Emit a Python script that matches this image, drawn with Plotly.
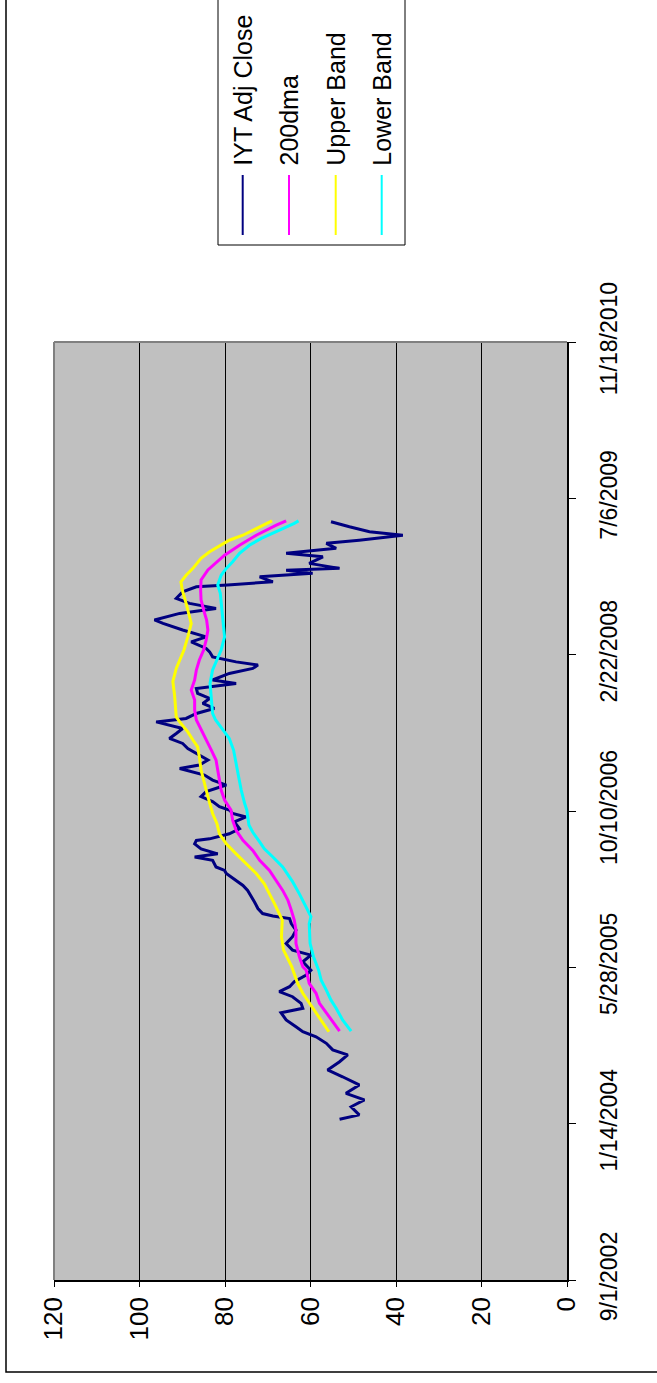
import plotly.graph_objects as go

# ---------------- data ----------------
iyt_dates = [
    "2004-01-28", "2004-02-11", "2004-03-08", "2004-03-30", "2004-04-20", "2004-05-17",
    "2004-06-12", "2004-07-04", "2004-07-30", "2004-08-21", "2004-09-06", "2004-09-27",
    "2004-10-18", "2004-11-03", "2004-11-19", "2004-12-11", "2005-01-03", "2005-01-17",
    "2005-02-02", "2005-02-23", "2005-03-11", "2005-03-27", "2005-04-12", "2005-05-03",
    "2005-05-19", "2005-06-15", "2005-07-06", "2005-07-22", "2005-08-12", "2005-09-03",
    "2005-09-24", "2005-10-15", "2005-10-31", "2005-11-08", "2005-11-16", "2005-12-02",
    "2005-12-23", "2006-01-10", "2006-01-29", "2006-02-14", "2006-03-02", "2006-03-24",
    "2006-04-03", "2006-04-14", "2006-05-05", "2006-05-16", "2006-05-26", "2006-06-11",
    "2006-06-27", "2006-07-08", "2006-07-13", "2006-07-29", "2006-08-14", "2006-09-05",
    "2006-09-21", "2006-10-02", "2006-10-13", "2006-10-24", "2006-11-09", "2006-11-25",
    "2006-12-11", "2007-01-01", "2007-01-17", "2007-02-02", "2007-02-23", "2007-03-06",
    "2007-03-22", "2007-04-07", "2007-04-28", "2007-05-14", "2007-05-30", "2007-06-15",
    "2007-07-01", "2007-07-22", "2007-08-02", "2007-08-18", "2007-09-03", "2007-09-19",
    "2007-10-05", "2007-10-21", "2007-11-06", "2007-11-22", "2007-12-03", "2007-12-24",
    "2008-01-09", "2008-01-20", "2008-01-30", "2008-02-15", "2008-03-02", "2008-03-13",
    "2008-04-03", "2008-04-19", "2008-05-11", "2008-06-01", "2008-06-12", "2008-07-03",
    "2008-07-19", "2008-08-04", "2008-08-20", "2008-09-10", "2008-09-26", "2008-10-02",
    "2008-10-12", "2008-10-28", "2008-11-08", "2008-11-18", "2008-11-24", "2008-12-10",
    "2008-12-31", "2009-01-11", "2009-01-27", "2009-02-12", "2009-02-22", "2009-03-10",
    "2009-03-21", "2009-04-06", "2009-04-22",
]
iyt_close = [
    53.2, 48.6, 50.5, 47.4, 51.7, 48.6,
    52.5, 56.0, 53.2, 51.3, 54.8, 56.3,
    58.7, 61.8, 63.4, 65.7, 66.9, 61.8,
    62.2, 64.2, 67.3, 64.9, 63.8, 61.0,
    59.9, 61.8, 59.9, 64.2, 65.7, 64.2,
    63.4, 64.5, 64.9, 68.8, 71.2, 72.3,
    73.1, 73.9, 74.7, 75.8, 77.4, 79.7,
    80.1, 82.1, 82.9, 87.1, 81.7, 85.6,
    87.1, 86.7, 83.6, 79.0, 76.6, 77.8,
    75.1, 78.2, 79.0, 81.3, 82.9, 85.6,
    84.4, 79.7, 82.9, 84.8, 90.6, 86.0,
    84.0, 86.0, 88.7, 89.9, 93.0, 91.4,
    89.9, 96.1, 89.1, 86.7, 82.5, 85.2,
    83.6, 86.4, 86.7, 77.4, 82.9, 79.0,
    73.5, 72.3, 77.4, 82.9, 83.6, 84.4,
    87.9, 84.4, 89.9, 94.5, 96.5, 90.6,
    82.1, 88.3, 91.4, 89.9, 86.7, 79.4,
    68.8, 71.9, 59.5, 65.7, 53.2, 60.3,
    57.1, 65.7, 54.0, 56.3, 48.6, 38.4,
    46.2, 50.9, 55.2,
]

dma_dates = [
    "2004-11-05", "2005-01-01", "2005-02-02", "2005-03-06", "2005-04-07", "2005-05-19",
    "2005-05-30", "2005-07-01", "2005-08-13", "2005-09-24", "2005-10-26", "2005-11-27",
    "2005-12-29", "2006-01-29", "2006-03-02", "2006-04-03", "2006-05-05", "2006-06-06",
    "2006-07-08", "2006-08-09", "2006-09-10", "2006-10-13", "2006-11-14", "2006-12-16",
    "2007-01-17", "2007-02-18", "2007-03-22", "2007-04-23", "2007-05-25", "2007-06-26",
    "2007-07-28", "2007-08-29", "2007-09-30", "2007-11-01", "2007-12-03", "2008-01-04",
    "2008-02-05", "2008-03-08", "2008-04-09", "2008-05-11", "2008-06-12", "2008-07-14",
    "2008-08-15", "2008-09-16", "2008-10-18", "2008-11-19", "2009-01-05", "2009-02-06",
    "2009-03-10", "2009-04-11", "2009-04-25",
]
dma_200 = [
    53.2, 56.3, 57.9, 58.7, 60.3, 61.0,
    61.8, 62.6, 63.4, 63.4, 63.8, 64.5,
    65.3, 66.5, 68.0, 69.6, 71.9, 73.5,
    75.8, 77.4, 78.2, 78.6, 80.1, 80.9,
    81.3, 81.7, 82.1, 83.2, 84.4, 85.6,
    86.7, 87.1, 87.1, 87.9, 87.1, 86.7,
    86.0, 85.0, 84.4, 84.0, 84.3, 85.0,
    85.6, 85.7, 85.6, 84.0, 80.1, 76.6,
    72.7, 68.0, 65.7,
]

upper_dates = [
    "2004-11-03", "2005-01-01", "2005-02-02", "2005-03-06", "2005-04-07", "2005-05-08",
    "2005-05-30", "2005-07-22", "2005-09-03", "2005-10-26", "2005-11-16", "2005-12-17",
    "2006-01-18", "2006-02-19", "2006-03-24", "2006-04-24", "2006-05-26", "2006-06-27",
    "2006-07-29", "2006-08-31", "2006-10-02", "2006-11-25", "2007-01-06", "2007-02-18",
    "2007-04-01", "2007-05-03", "2007-05-25", "2007-06-20", "2007-07-22", "2007-08-07",
    "2007-10-16", "2007-11-28", "2008-01-09", "2008-02-05", "2008-03-08", "2008-04-19",
    "2008-06-01", "2008-08-04", "2008-09-16", "2008-10-12", "2008-11-02", "2008-11-24",
    "2008-12-26", "2009-01-16", "2009-02-06", "2009-02-22", "2009-03-10", "2009-03-26",
    "2009-04-11", "2009-04-25",
]
upper_band = [
    55.7, 58.7, 60.3, 61.8, 63.0, 63.8,
    64.4, 66.3, 66.8, 66.6, 67.3, 68.4,
    69.6, 70.8, 72.7, 75.1, 77.4, 79.7,
    81.3, 81.9, 82.9, 84.0, 84.8, 85.6,
    86.0, 86.4, 87.5, 88.7, 90.6, 91.4,
    91.8, 92.2, 91.4, 90.6, 89.6, 88.7,
    87.9, 89.1, 90.0, 90.3, 89.1, 87.5,
    85.6, 83.6, 80.9, 79.0, 75.8, 73.5,
    71.2, 69.0,
]

lower_dates = [
    "2004-11-05", "2004-12-11", "2005-01-17", "2005-02-12", "2005-03-16", "2005-04-17",
    "2005-05-19", "2005-07-01", "2005-08-13", "2005-10-15", "2005-11-06", "2005-12-17",
    "2006-01-18", "2006-02-26", "2006-04-14", "2006-05-16", "2006-06-11", "2006-07-03",
    "2006-08-03", "2006-08-26", "2006-09-21", "2006-10-13", "2006-11-03", "2006-12-16",
    "2007-01-27", "2007-03-11", "2007-04-23", "2007-05-30", "2007-06-26", "2007-07-28",
    "2007-08-18", "2007-10-21", "2007-11-22", "2008-01-04", "2008-02-05", "2008-03-08",
    "2008-04-19", "2008-06-01", "2008-07-24", "2008-09-05", "2008-10-02", "2008-11-02",
    "2008-11-24", "2008-12-15", "2009-01-11", "2009-02-06", "2009-02-28", "2009-03-16",
    "2009-04-01", "2009-04-17", "2009-04-25",
]
lower_band = [
    50.5, 52.5, 54.0, 55.2, 56.3, 57.5,
    58.1, 59.3, 60.1, 60.3, 59.9, 61.4,
    62.6, 64.2, 66.5, 68.8, 70.8, 71.9,
    73.5, 74.4, 74.7, 74.9, 75.4, 76.2,
    76.8, 77.4, 78.0, 79.0, 80.5, 82.2,
    82.9, 83.2, 83.5, 82.9, 81.9, 80.9,
    80.1, 80.4, 80.7, 81.1, 81.7, 80.9,
    79.7, 78.2, 76.6, 74.3, 71.5, 68.8,
    66.1, 63.8, 62.8,
]

series_names = ["IYT Adj Close", "200dma", "Upper Band", "Lower Band"]
series_colors = ["#000080", "#FF00FF", "#FFFF00", "#00FFFF"]

value_ticks = [0, 20, 40, 60, 80, 100, 120]
date_start = "2002-09-01"
date_end = "2010-11-18"
date_step_days = 500

# ---------------- layout geometry (screen pixels) ----------------
W, H = 657, 1383
PL, PR, PT, PB = 54, 567, 342, 1280    # plot area edges on screen


def px(xp):
    return (xp - PL) / (PR - PL)


def py(yp):
    return (PB - yp) / (PB - PT)


FONT = "Liberation Sans, Arial, sans-serif"

fig = go.Figure()
all_series = [
    (iyt_dates, iyt_close),
    (dma_dates, dma_200),
    (upper_dates, upper_band),
    (lower_dates, lower_band),
]
for (d, v), name, col in zip(all_series, series_names, series_colors):
    fig.add_trace(go.Scatter(
        x=v, y=d, mode="lines", name=name, showlegend=False,
        line=dict(color=col, width=3),
    ))

shapes = []
annotations = []

# outer chart frame (left and bottom visible)
shapes.append(dict(type="rect", xref="paper", yref="paper",
                   x0=px(6), x1=px(W + 30), y0=py(1372), y1=py(-30),
                   line=dict(color="#000000", width=1.5), fillcolor="rgba(0,0,0,0)",
                   layer="above"))
# gray plot-area border (top and left)
shapes.append(dict(type="line", xref="paper", yref="paper", x0=0, x1=1, y0=1, y1=1,
                   line=dict(color="#808080", width=2), layer="above"))
shapes.append(dict(type="line", xref="paper", yref="paper", x0=0, x1=0, y0=0, y1=1,
                   line=dict(color="#808080", width=2), layer="above"))

# legend box
shapes.append(dict(type="rect", xref="paper", yref="paper",
                   x0=px(218), x1=px(405), y0=py(245), y1=py(-2),
                   line=dict(color="#000000", width=1), fillcolor="#FFFFFF",
                   layer="above"))
leg_x = [242.7, 289.0, 335.7, 381.7]
for xx, name, col in zip(leg_x, series_names, series_colors):
    shapes.append(dict(type="line", xref="paper", yref="paper",
                       x0=px(xx), x1=px(xx), y0=py(175), y1=py(235),
                       line=dict(color=col, width=2), layer="above"))
    annotations.append(dict(text=name, xref="paper", yref="paper",
                            x=px(xx - 0.5), y=py(168), xanchor="center", yanchor="bottom",
                            textangle=-90, showarrow=False,
                            font=dict(family=FONT, size=25, color="#000000")))

fig.update_layout(
    width=W, height=H,
    margin=dict(l=PL, r=W - PR, t=PT, b=H - PB, pad=0),
    paper_bgcolor="#FFFFFF",
    plot_bgcolor="#C0C0C0",
    showlegend=False,
    shapes=shapes,
    annotations=annotations,
    xaxis=dict(
        range=[120, 0], tickmode="array", tickvals=value_ticks,
        ticktext=[str(t) for t in value_ticks],
        tickangle=-90, ticks="outside", ticklen=5, tickcolor="#000000",
        showline=True, linecolor="#000000", linewidth=1.5,
        showgrid=True, gridcolor="#000000", gridwidth=1,
        zeroline=False, side="bottom",
        tickfont=dict(family=FONT, size=26, color="#000000"),
    ),
    yaxis=dict(
        type="date", range=[date_start, date_end],
        tick0=date_start, dtick=date_step_days * 86400000,
        tickformat="%-m/%-d/%Y", tickangle=-90,
        ticks="outside", ticklen=7, tickcolor="#000000",
        showline=True, linecolor="#000000", linewidth=1.5,
        showgrid=False, zeroline=False, side="right",
        ticklabelstandoff=14,
        tickfont=dict(family=FONT, size=23, color="#000000"),
    ),
)

fig.write_html(
    "out.html",
    config={"displayModeBar": False},
    post_script="document.body.style.margin='0';document.body.style.overflow='hidden';",
)
